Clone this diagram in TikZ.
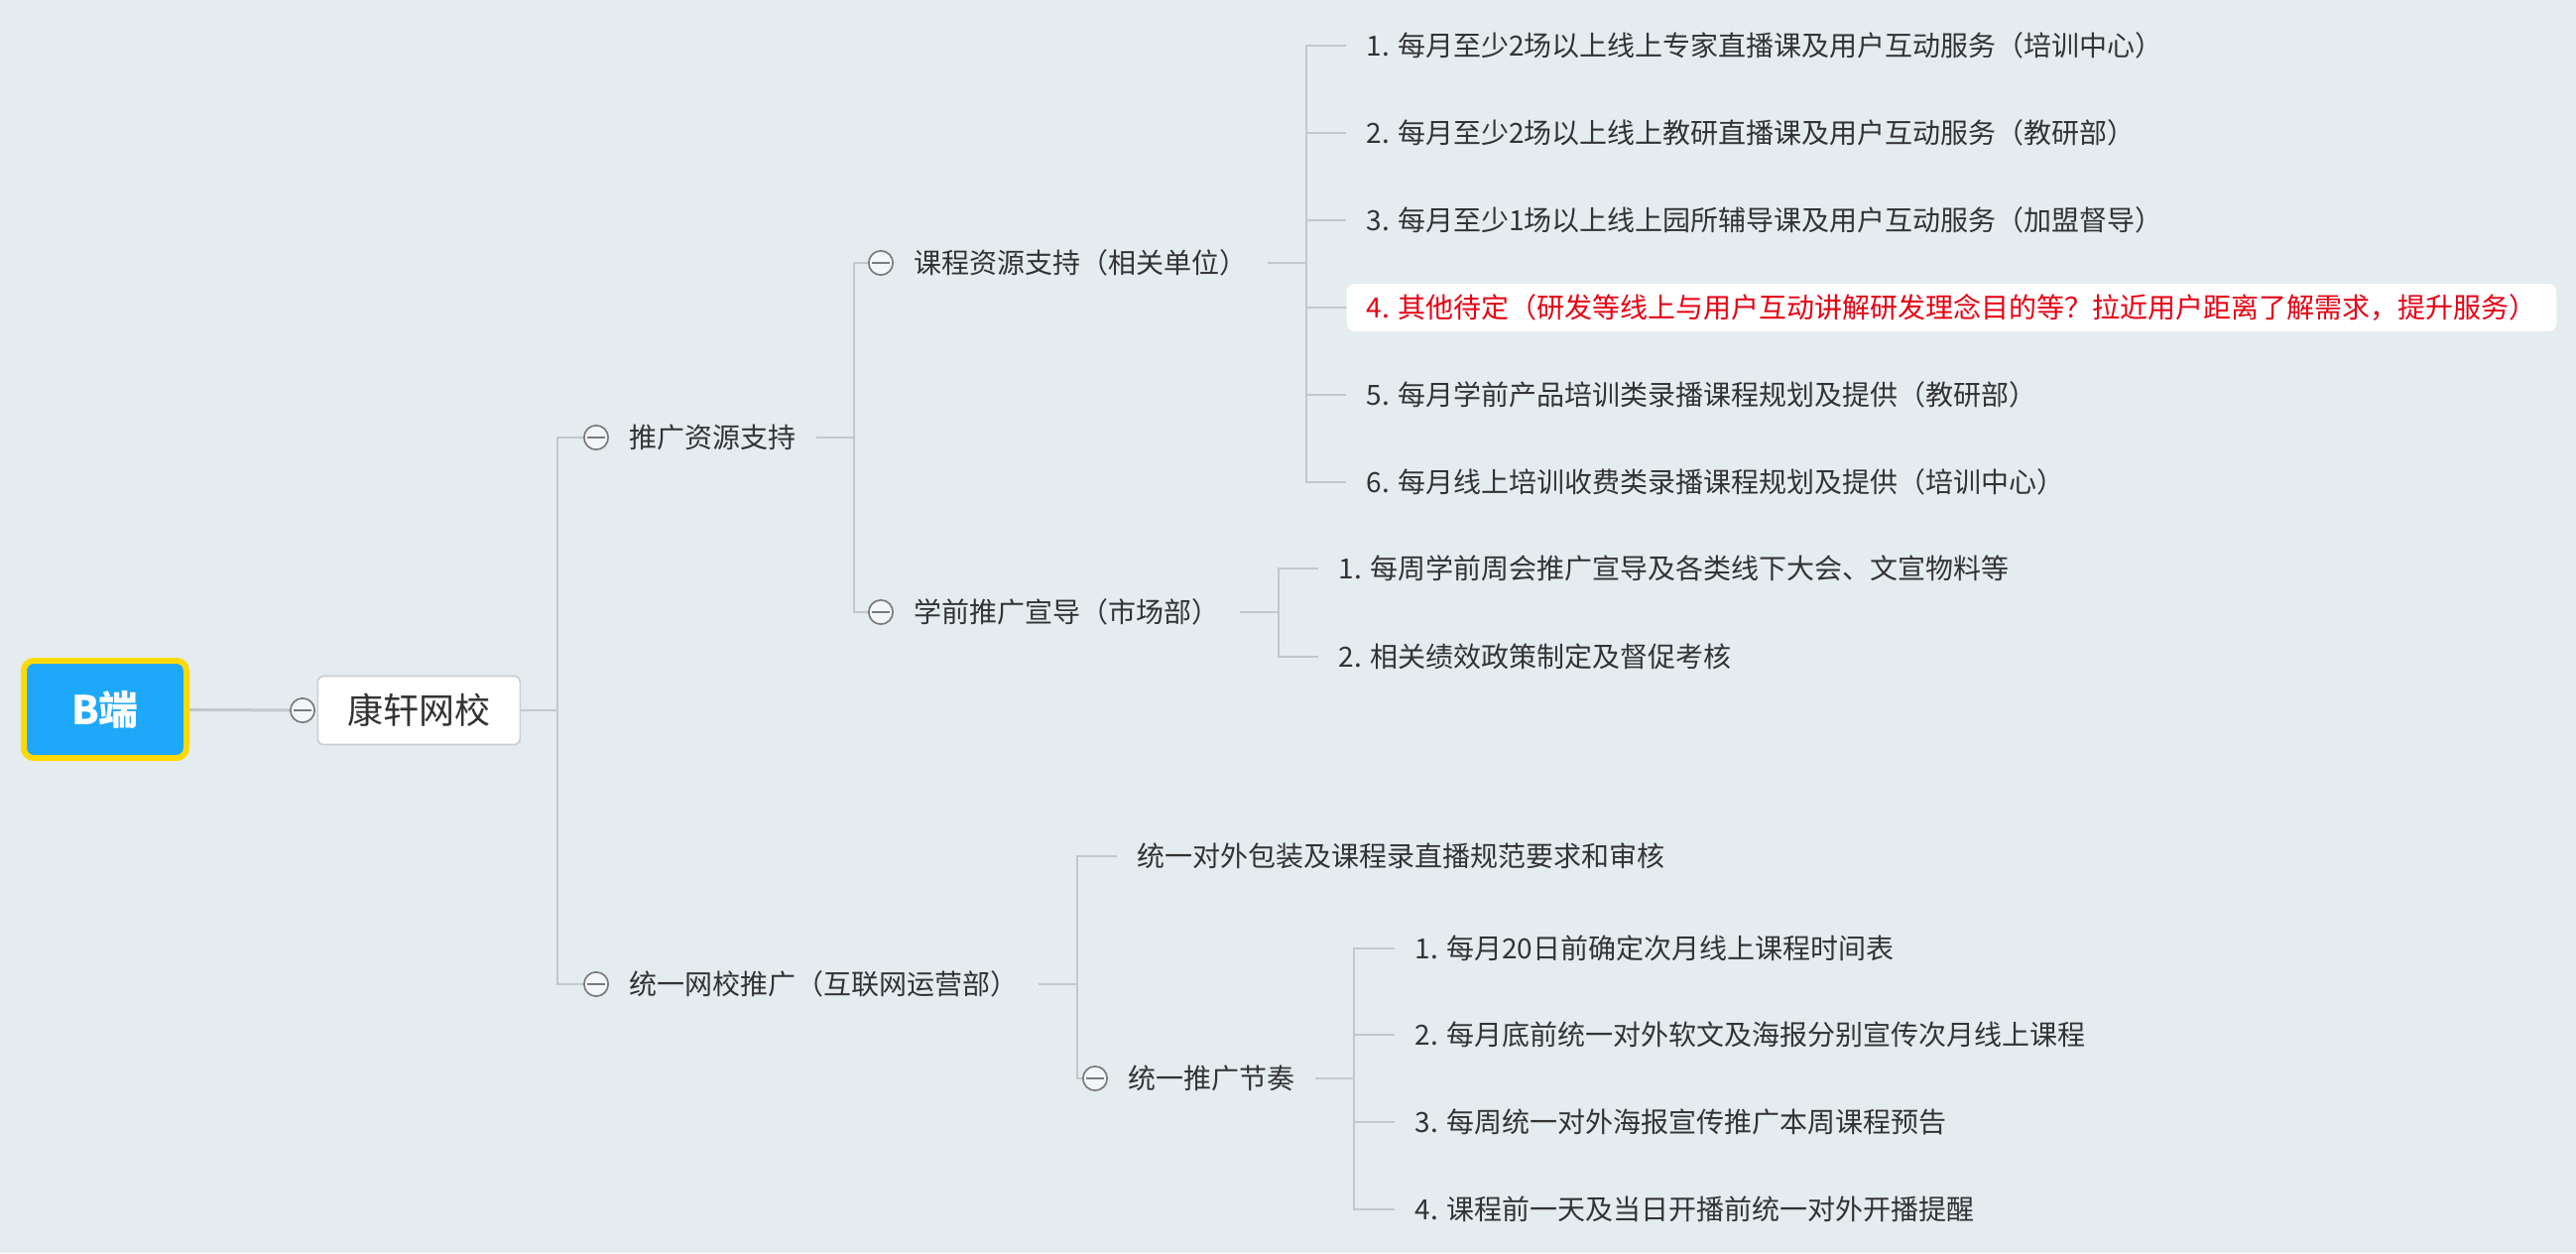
\documentclass[tikz,border=0pt]{standalone}
\usepackage{fontspec}
\setmainfont{Noto Sans CJK SC}
\usepackage{xcolor}
\usepackage{tikz}
\usetikzlibrary{backgrounds,positioning}
\definecolor{bgcol}{HTML}{E4ECF0}
\definecolor{linecol}{HTML}{C2C7CA}
\definecolor{boxline}{HTML}{C9CDD0}
\definecolor{txtcol}{HTML}{333333}
\definecolor{rootblue}{HTML}{1EA8FA}
\definecolor{rootgold}{HTML}{FFD900}
\definecolor{redtxt}{HTML}{E60012}
\definecolor{foldcol}{HTML}{7A7A7A}

\begin{document}
\begin{tikzpicture}[x=0.3pt,y=-0.3pt]
  \tikzstyle{root} = [draw=rootgold,fill=rootblue,line width=1.8pt,rounded corners=3pt,minimum width=49.2pt,minimum height=29.4pt,text=white,font=\fontsize{12}{14}\selectfont\bfseries]
  \tikzstyle{school} = [draw=boxline,fill=white,line width=0.5pt,rounded corners=1.8pt,minimum width=61.2pt,minimum height=20.7pt,inner sep=0pt,text=txtcol,font=\fontsize{10.8}{13}\selectfont]
  \tikzstyle{fold} = [draw=foldcol,fill=white!55!bgcol,line width=0.5pt,shape=circle,minimum size=7.3pt,inner sep=0pt,path picture={\draw[foldcol,line width=0.5pt] ([xshift=-2.6pt]path picture bounding box.center) -- ([xshift=2.6pt]path picture bounding box.center);}]
  \tikzstyle{topic} = [inner xsep=6pt,inner ysep=2pt,text=txtcol,font=\fontsize{8.4}{10}\selectfont]
  \tikzstyle{leaf} = [topic,anchor=west,minimum height=14.4pt]
  \tikzstyle{hot} = [fill=white,rounded corners=2.4pt,text=redtxt]
  \tikzstyle{branch} = [draw=linecol,line width=0.6pt]
  \useasboundingbox (0,0) rectangle (2597,1263);
  %
  % Root and school.
  \node[root] (b) at (106,715) {B端};
  \node[fold] (f0) at (305,716) {};
  \node[school,right=0.45pt of f0] (kx) {康轩网校};
  \coordinate (j0) at (562,716);
  % First branch.
  \node[fold] (f1) at (601,441) {};
  \node[topic,right=0pt of f1] (t1) {推广资源支持};
  \coordinate (j1) at (861,441);
  \node[fold] (f11) at (888,265) {};
  \node[topic,right=0pt of f11] (t11) {课程资源支持（相关单位）};
  \coordinate (j11) at (1317,265);
  \node[leaf] (l111) at (1357,46) {1. 每月至少2场以上线上专家直播课及用户互动服务（培训中心）};
  \node[leaf] (l112) at (1357,134) {2. 每月至少2场以上线上教研直播课及用户互动服务（教研部）};
  \node[leaf] (l113) at (1357,222) {3. 每月至少1场以上线上园所辅导课及用户互动服务（加盟督导）};
  \node[leaf,hot] (l114) at (1357,310) {4. 其他待定（研发等线上与用户互动讲解研发理念目的等？拉近用户距离了解需求，提升服务）};
  \node[leaf] (l115) at (1357,398) {5. 每月学前产品培训类录播课程规划及提供（教研部）};
  \node[leaf] (l116) at (1357,486) {6. 每月线上培训收费类录播课程规划及提供（培训中心）};
  \node[fold] (f12) at (888,617) {};
  \node[topic,right=0pt of f12] (t12) {学前推广宣导（市场部）};
  \coordinate (j12) at (1289,617);
  \node[leaf] (l121) at (1329,573) {1. 每周学前周会推广宣导及各类线下大会、文宣物料等};
  \node[leaf] (l122) at (1329,662) {2. 相关绩效政策制定及督促考核};
  % Second branch.
  \node[fold] (f2) at (601,992) {};
  \node[topic,right=0pt of f2] (t2) {统一网校推广（互联网运营部）};
  \coordinate (j2) at (1086,992);
  \node[leaf] (l21) at (1126,863) {统一对外包装及课程录直播规范要求和审核};
  \node[fold] (f22) at (1104,1087) {};
  \node[topic,right=0pt of f22] (t22) {统一推广节奏};
  \coordinate (j22) at (1365,1087);
  \node[leaf] (l221) at (1406,956) {1. 每月20日前确定次月线上课程时间表};
  \node[leaf] (l222) at (1406,1043) {2. 每月底前统一对外软文及海报分别宣传次月线上课程};
  \node[leaf] (l223) at (1406,1131) {3. 每周统一对外海报宣传推广本周课程预告};
  \node[leaf] (l224) at (1406,1219) {4. 课程前一天及当日开播前统一对外开播提醒};
  \begin{pgfonlayer}{background}
      % Canvas.
      \fill[bgcol] (0,0) rectangle (2597,1263);
      % Draw lines.
      \draw[branch,line width=0.9pt] (b) -- (f0);
      \draw[branch] (kx) -- (j0) (j0) |- (f1) (j0) |- (f2);
      \draw[branch] (t1) -- (j1) (j1) |- (f11) (j1) |- (f12);
      \draw[branch] (t11) -- (j11) (j11) |- (l111) (j11) |- (l112) (j11) |- (l113)
                    (j11) |- (l114) (j11) |- (l115) (j11) |- (l116);
      \draw[branch] (t12) -- (j12) (j12) |- (l121) (j12) |- (l122);
      \draw[branch] (t2) -- (j2) (j2) |- (l21) (j2) |- (f22);
      \draw[branch] (t22) -- (j22) (j22) |- (l221) (j22) |- (l222) (j22) |- (l223) (j22) |- (l224);
  \end{pgfonlayer}
\end{tikzpicture}
\end{document}
